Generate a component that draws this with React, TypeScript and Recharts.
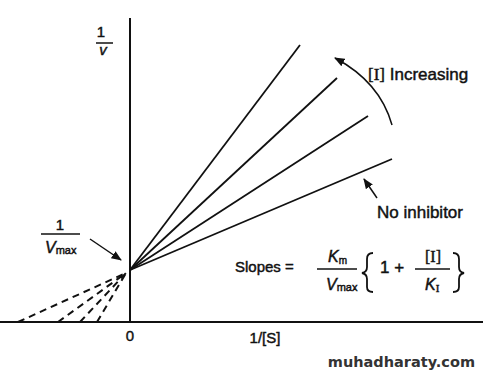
import React from 'react';
import { LineChart, Line, XAxis, YAxis, ReferenceLine } from 'recharts';

// Lineweaver-Burk plot, competitive inhibition (units of 1/[S] and 1/v)
const interceptX = 0;
const interceptY = 0.52; // 1/Vmax
const lineEndX = [2.62, 2.38, 2.07, 1.7]; // no inhibitor -> highest [I]
const lineEndY = [1.63, 2.06, 2.44, 2.77];
const dashStartX = [-1.12, -0.72, -0.5, -0.33]; // -1/Km (apparent)

const solidLines = lineEndX.map((x, i) => [
  { x: interceptX, y: interceptY },
  { x, y: lineEndY[i] },
]);
const dashedLines = dashStartX.map((x) => [
  { x, y: 0 },
  { x: interceptX - 0.04, y: interceptY - 0.03 },
]);

const W = 483;
const H = 372;
const font = '"Liberation Sans", Arial, sans-serif';
const serif = '"Liberation Serif", "Times New Roman", serif';
const ink = '#111';

const Annotations = () => (
  <svg width={W} height={H} style={{ position: 'absolute', left: 0, top: 0, pointerEvents: 'none' }}>
    <defs>
      <marker id="ah" viewBox="0 0 10 10" refX="9" refY="5" markerWidth="7" markerHeight="7" orient="auto">
        <path d="M0,1 L10,5 L0,9 z" fill={ink} />
      </marker>
    </defs>
    <g fontFamily={font} fill={ink} stroke={ink} strokeWidth={0.45}>
      {/* 1/v */}
      <text x={101} y={37} fontSize={15} textAnchor="middle">1</text>
      <line x1={96} y1={43} x2={113} y2={43} strokeWidth={1.5} />
      <text x={103} y={55} fontSize={15} fontStyle="italic" textAnchor="middle">v</text>

      {/* 1/Vmax */}
      <text x={60} y={230} fontSize={15} textAnchor="middle">1</text>
      <line x1={41} y1={234} x2={80} y2={234} strokeWidth={1.5} />
      <text x={45} y={253} fontSize={16} fontStyle="italic">V<tspan fontSize={11} fontStyle="normal" dy={1}>max</tspan></text>
      <line x1={90} y1={239} x2={121} y2={260} strokeWidth={1.5} markerEnd="url(#ah)" />

      {/* axis title */}
      <text x={265} y={343} fontSize={15} textAnchor="middle">1/[S]</text>

      {/* slopes formula */}
      <text x={235} y={272} fontSize={15}>Slopes =</text>
      <text x={328} y={262} fontSize={16} fontStyle="italic">K<tspan fontSize={10} fontStyle="normal" dy={2}>m</tspan></text>
      <line x1={317} y1={269} x2={357} y2={269} strokeWidth={1.5} />
      <text x={326} y={290} fontSize={16} fontStyle="italic">V<tspan fontSize={11} fontStyle="normal" dy={1}>max</tspan></text>
      <path d="M373,253 Q367,253 367,259 L367,267 Q367,272 362,273 Q367,274 367,279 L367,287 Q367,292 373,292" fill="none" strokeWidth={1.8} />
      <text x={380} y={273} fontSize={17}>1 +</text>
      <text x={433} y={262} fontSize={16} textAnchor="middle" fontFamily={serif}>[I]</text>
      <line x1={415} y1={269} x2={450} y2={269} strokeWidth={1.5} />
      <text x={425} y={290} fontSize={16} fontStyle="italic">K<tspan fontSize={11} fontStyle="normal" fontFamily={serif} dy={2}>I</tspan></text>
      <path d="M453,253 Q459,253 459,259 L459,267 Q459,272 464,273 Q459,274 459,279 L459,287 Q459,292 453,292" fill="none" strokeWidth={1.8} />

      {/* [I] increasing */}
      <text x={368} y={80} fontSize={17}><tspan fontFamily={serif}>[I]</tspan> Increasing</text>
      <path d="M392,125 Q380,82 335,58" fill="none" strokeWidth={1.5} markerEnd="url(#ah)" />

      {/* no inhibitor */}
      <text x={377} y={218} fontSize={17}>No inhibitor</text>
      <line x1={377} y1={198} x2={364} y2={179} strokeWidth={1.5} markerEnd="url(#ah)" />

      <text x={475} y={367} fontSize={14.5} fontWeight="bold" fill="#333" stroke="none" textAnchor="end" fontFamily='"DejaVu Sans", sans-serif'>muhadharaty.com</text>
    </g>
  </svg>
);

export default function App() {
  return (
    <div style={{ position: 'absolute', left: 0, top: 0, width: W, height: H, background: '#fff' }}>
      <LineChart width={W} height={H} margin={{ top: 18, right: 0, left: 0, bottom: 20 }}>
        <XAxis
          type="number"
          dataKey="x"
          domain={[-1.3, 3.53]}
          ticks={[0]}
          axisLine={false}
          tickLine={false}
          height={30}
          tick={{ fill: ink, stroke: ink, strokeWidth: 0.4, fontSize: 15, fontFamily: font }}
          allowDuplicatedCategory={false}
        />
        <YAxis type="number" dataKey="y" domain={[0, 3.04]} hide />
        <ReferenceLine x={0} stroke={ink} strokeWidth={2} />
        <ReferenceLine y={0} stroke={ink} strokeWidth={2} />
        {dashedLines.map((d, i) => (
          <Line
            key={`d${i}`}
            data={d}
            dataKey="y"
            stroke={ink}
            strokeWidth={2}
            strokeDasharray="7 5"
            dot={false}
            isAnimationActive={false}
          />
        ))}
        {solidLines.map((d, i) => (
          <Line
            key={`s${i}`}
            data={d}
            dataKey="y"
            stroke={ink}
            strokeWidth={1.8}
            dot={false}
            isAnimationActive={false}
          />
        ))}
      </LineChart>
      <Annotations />
    </div>
  );
}
